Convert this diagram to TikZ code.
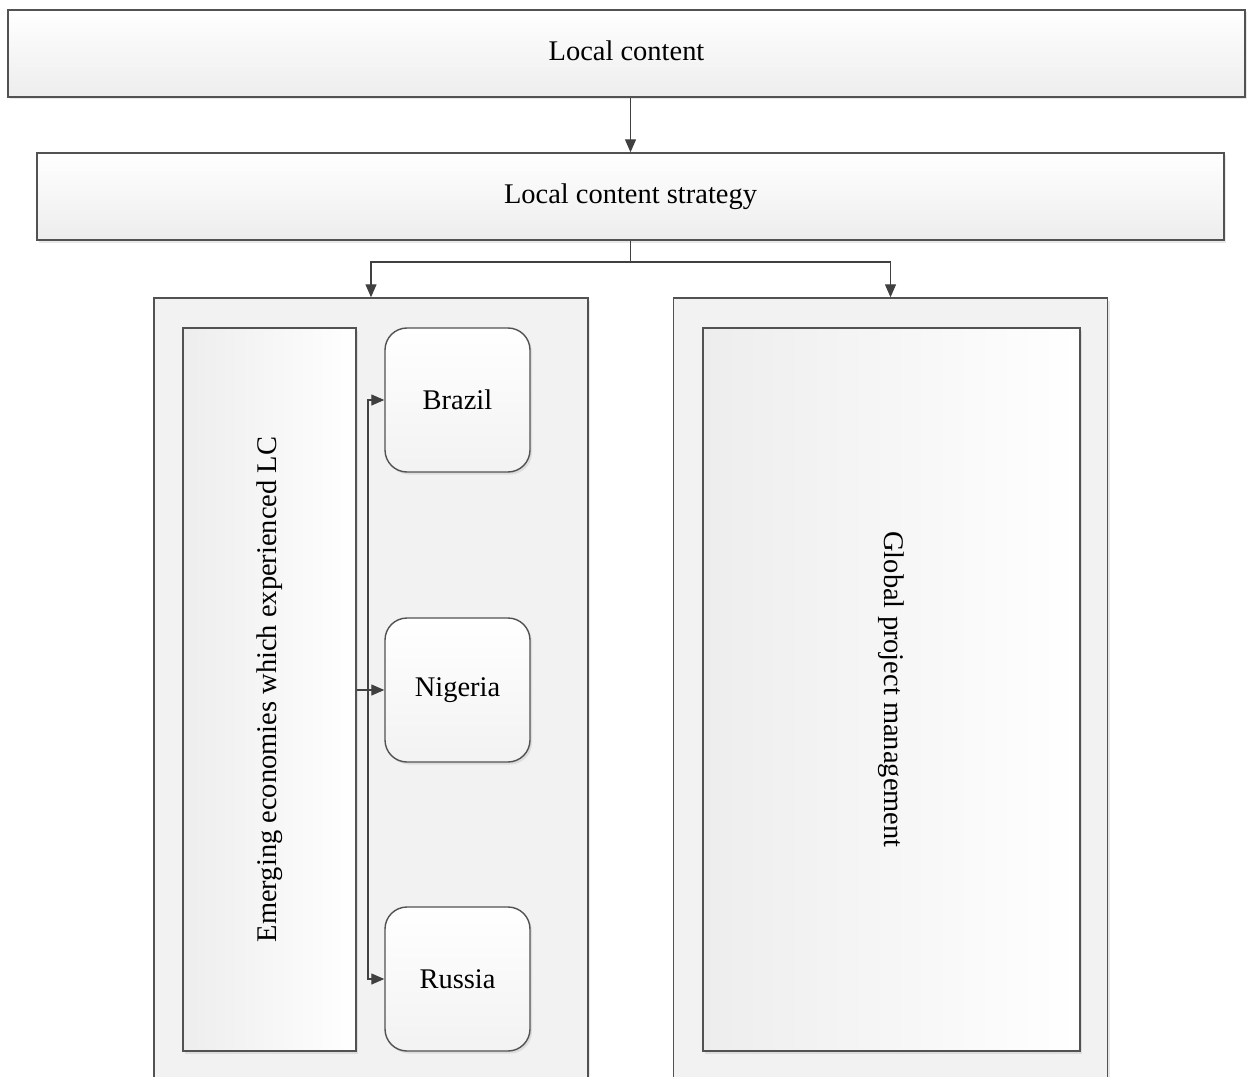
\documentclass[tikz,border=0pt]{standalone}
\usepackage{fontspec}
\setmainfont{Liberation Serif}
\usetikzlibrary{arrows.meta,shadows}

\tikzset{
  base/.style={draw=black!68, line width=0.8pt, inner sep=0pt,
    drop shadow={shadow xshift=0.04cm, shadow yshift=-0.05cm, opacity=0.15, fill=black!60}},
  headbox/.style={base, top color=white, bottom color=black!7, minimum height=1.74cm},
  panel/.style={base, fill=black!5, minimum width=8.68cm, minimum height=16.54cm},
  innerbox/.style={base, left color=black!7, right color=white, minimum height=14.46cm},
  country/.style={base, rounded corners=0.44cm, top color=white, bottom color=black!5,
    minimum width=2.9cm, minimum height=2.88cm},
  link/.style={draw=black!75, line width=0.7pt, -{Triangle[length=0.26cm,width=0.22cm]}}
}

\begin{document}
\begin{tikzpicture}[font=\fontsize{16.2}{19}\selectfont]
    \useasboundingbox (0,0) rectangle (25.06,-21.54);
    \clip (0,0) rectangle (25.06,-21.54);
    \node[headbox, minimum width=24.74cm, text depth=0.1cm] (lc) at (12.53,-1.07) {Local content};
    \node[headbox, minimum width=23.74cm] (lcs) at (12.61,-3.93) {Local content strategy};
    \draw[link] (lcs.north |- lc.south) -- (lcs.north);

    \node[panel] (lft) at (7.42,-14.23) {};
    \node[panel] (rgt) at (17.81,-14.23) {};
    \coordinate (split) at (12.61,-5.24);
    \draw[link] (lcs.south) -- (split) -| (lft.north);
    \draw[link] (lcs.south) -- (split) -| (rgt.north);

    \node[innerbox, minimum width=3.46cm] (emg) at (5.39,-13.79) {};
    \node[rotate=90] (emgtxt) at (emg.center) {Emerging economies which experienced LC};
    \node[country] (bra) at (9.15,-8.0) {Brazil};
    \node[country] (nig) at (9.15,-13.8) {Nigeria};
    \node[country] (rus) at (9.15,-19.58) {Russia};
    \coordinate (bus) at (7.36,-13.8);
    \draw[link] (emg.east |- nig.west) -- (nig.west);
    \draw[link] (bus) |- (bra.west);
    \draw[link] (bus) |- (rus.west);

    \node[innerbox, minimum width=7.54cm] (gpm) at (17.83,-13.79) {};
    \node[rotate=-90] (gpmtxt) at (gpm.center) {Global project management};
\end{tikzpicture}
\end{document}
